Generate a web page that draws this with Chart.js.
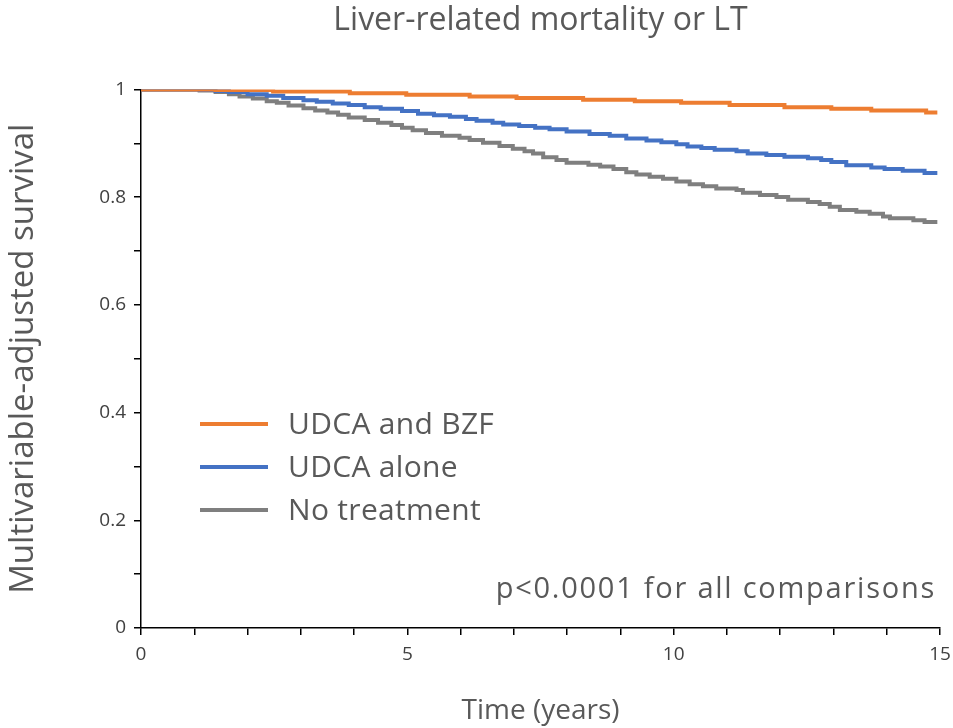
<!DOCTYPE html>
<html>
<head>
<meta charset="utf-8">
<script src="https://cdn.jsdelivr.net/npm/chart.js@4"></script>
<style>
  body { margin: 0; background: #fff; }
  #wrap { width: 953px; height: 728px; }
</style>
</head>
<body>
<div id="wrap"><canvas id="km" width="953" height="728"></canvas></div>
<script>
// step times (years) and survival after each step
const seriesNames = ['UDCA and BZF', 'UDCA alone', 'No treatment'];
const bzfTimes = [0, 1.4, 2.48, 3.92, 4.98, 6.17, 7.05, 8.3, 9.27, 10.14, 11.05, 12.08, 12.96, 13.71, 14.74, 14.95];
const bzfSurv  = [1, 0.999, 0.996, 0.993, 0.990, 0.987, 0.984, 0.981, 0.978, 0.975, 0.971, 0.967, 0.964, 0.961, 0.957, 0.957];
const udcaTimes = [0, 1.1, 1.4, 1.65, 2.0, 2.36, 2.67, 3.05, 3.3, 3.6, 3.9, 4.2, 4.5, 4.9, 5.2, 5.5, 5.8, 6.1, 6.3, 6.6, 6.8, 7.1, 7.4, 7.67, 7.99, 8.42, 8.8, 9.11, 9.49, 9.77, 10.05, 10.26, 10.52, 10.77, 11.18, 11.39, 11.74, 12.08, 12.52, 12.77, 12.96, 13.24, 13.71, 13.96, 14.3, 14.71, 14.95];
const udcaSurv  = [1, 0.999, 0.997, 0.995, 0.991, 0.988, 0.984, 0.980, 0.977, 0.974, 0.971, 0.967, 0.964, 0.960, 0.955, 0.952, 0.949, 0.945, 0.942, 0.938, 0.935, 0.932, 0.929, 0.926, 0.922, 0.917, 0.914, 0.909, 0.905, 0.902, 0.898, 0.894, 0.891, 0.888, 0.885, 0.881, 0.878, 0.875, 0.872, 0.869, 0.865, 0.859, 0.855, 0.852, 0.849, 0.845, 0.845];
const noTxTimes = [0, 1.1, 1.4, 1.65, 1.85, 2.1, 2.36, 2.55, 2.77, 3.05, 3.27, 3.5, 3.7, 3.9, 4.2, 4.45, 4.7, 4.9, 5.1, 5.35, 5.65, 5.98, 6.17, 6.42, 6.73, 6.98, 7.2, 7.36, 7.55, 7.8, 7.99, 8.4, 8.62, 8.87, 9.11, 9.3, 9.55, 9.8, 10.05, 10.3, 10.55, 10.8, 11.18, 11.3, 11.62, 11.93, 12.15, 12.52, 12.74, 12.93, 13.12, 13.43, 13.68, 13.93, 14.06, 14.5, 14.71, 14.95];
const noTxSurv  = [1, 0.998, 0.995, 0.991, 0.987, 0.983, 0.978, 0.975, 0.970, 0.965, 0.961, 0.957, 0.953, 0.948, 0.943, 0.938, 0.934, 0.929, 0.924, 0.919, 0.914, 0.910, 0.906, 0.901, 0.895, 0.890, 0.885, 0.881, 0.874, 0.869, 0.864, 0.860, 0.857, 0.852, 0.846, 0.842, 0.838, 0.834, 0.829, 0.824, 0.820, 0.816, 0.813, 0.808, 0.804, 0.800, 0.795, 0.791, 0.787, 0.782, 0.776, 0.773, 0.769, 0.764, 0.761, 0.757, 0.754, 0.754];
const xTickLabels = [0, 5, 10, 15];
const yTickLabels = [0, 0.2, 0.4, 0.6, 0.8, 1];
const colors = ['#ED7D31', '#4472C4', '#7F7F7F'];
const fontFam = '"Open Sans", sans-serif';

function pts(t, s) { return t.map((x, i) => ({ x: x, y: s[i] })); }

const seriesPts = [pts(bzfTimes, bzfSurv), pts(udcaTimes, udcaSurv), pts(noTxTimes, noTxSurv)];

const legendAndNote = {
  id: 'legendAndNote',
  afterDraw(chart) {
    const c = chart.ctx;
    c.save();
    c.font = '30px ' + fontFam;
    c.letterSpacing = '0.3px';
    c.textBaseline = 'middle';
    chart.data.datasets.forEach((ds, i) => {
      const y = 424 + i * 43;
      c.strokeStyle = ds.borderColor;
      c.lineWidth = 4;
      c.beginPath();
      c.moveTo(200, y);
      c.lineTo(268, y);
      c.stroke();
      c.fillStyle = '#595959';
      c.textAlign = 'left';
      c.fillText(ds.label, 288, y + 1);
    });
    c.font = '29px ' + fontFam;
    c.letterSpacing = '1.75px';
    c.textAlign = 'right';
    c.fillStyle = '#595959';
    c.fillText('p<0.0001 for all comparisons', 936, 590);
    c.restore();
  }
};

new Chart(document.getElementById('km'), {
  type: 'line',
  data: {
    datasets: seriesPts.map((p, i) => ({
      label: seriesNames[i],
      data: p,
      borderColor: colors[i],
      backgroundColor: colors[i],
      borderWidth: 4,
      pointRadius: 0,
      stepped: true,
      fill: false
    }))
  },
  options: {
    responsive: false,
    animation: false,
    layout: { padding: { top: 0, right: 0, bottom: 0, left: 0 } },
    plugins: {
      legend: { display: false },
      tooltip: { enabled: false },
      title: {
        display: true,
        fullSize: false,
        text: 'Liver-related mortality or LT',
        color: '#595959',
        font: { family: fontFam, size: 32, weight: 'normal' },
        padding: { top: 2, bottom: 49 }
      }
    },
    scales: {
      x: {
        type: 'linear',
        min: 0,
        max: 15,
        afterFit(s) { s.height = 100; s.paddingRight = 13; s.paddingLeft = 0; },
        border: { color: '#000', width: 1.5 },
        grid: { drawOnChartArea: false, drawTicks: true, tickLength: 7, color: '#000', lineWidth: 1.5 },
        ticks: {
          stepSize: 1,
          autoSkip: false,
          maxRotation: 0,
          color: '#404040',
          font: { family: fontFam, size: 19 },
          padding: 8,
          callback: (v) => xTickLabels.includes(v) ? String(v) : ''
        },
        title: {
          display: true,
          text: 'Time (years)',
          color: '#595959',
          font: { family: fontFam, size: 28 },
          padding: { top: 24, bottom: 0 }
        }
      },
      y: {
        min: 0,
        max: 1,
        afterFit(s) { s.width = 141; },
        border: { color: '#000', width: 1.5 },
        grid: { drawOnChartArea: false, drawTicks: true, tickLength: 7, color: '#000', lineWidth: 1.5 },
        ticks: {
          stepSize: 0.1,
          autoSkip: false,
          color: '#404040',
          font: { family: fontFam, size: 19 },
          padding: 8,
          callback: (v) => {
            const r = Math.round(v * 10) / 10;
            return yTickLabels.includes(r) ? String(r) : '';
          }
        },
        title: {
          display: true,
          text: 'Multivariable-adjusted survival',
          color: '#595959',
          font: { family: fontFam, size: 33 },
          padding: { bottom: 0 }
        }
      }
    }
  },
  plugins: [legendAndNote]
});
</script>
</body>
</html>
